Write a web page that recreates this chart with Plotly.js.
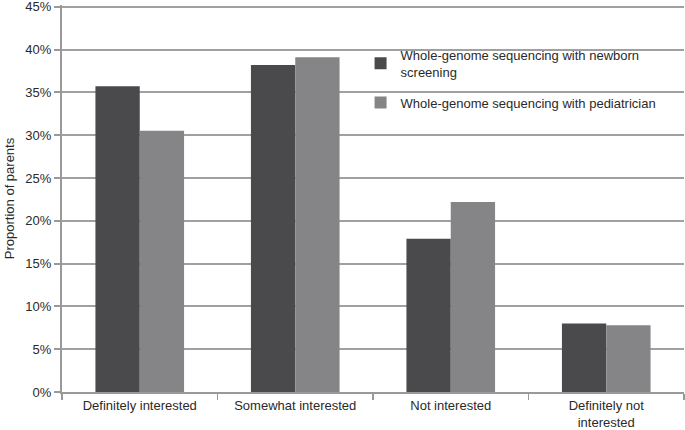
<!DOCTYPE html>
<html>
<head>
<meta charset="utf-8">
<script src="https://cdn.plot.ly/plotly-3.0.1.min.js"></script>
<style>
  html, body { margin: 0; padding: 0; background: #fff; }
  #chart { width: 685px; height: 430px; }
</style>
</head>
<body>
<div id="chart"></div>
<script>
// Interest in whole-genome sequencing, by setting
const categories = ['Definitely interested', 'Somewhat interested', 'Not interested', 'Definitely not<br>interested'];
const newbornScreening = [0.357, 0.382, 0.179, 0.080];
const pediatrician = [0.305, 0.391, 0.222, 0.078];
const yTicks = [0, 0.05, 0.10, 0.15, 0.20, 0.25, 0.30, 0.35, 0.40, 0.45];

const traces = [
  {
    x: categories,
    y: newbornScreening,
    type: 'bar',
    name: 'Whole-genome sequencing with newborn<br>screening',
    legendgroup: 'a',
    marker: { color: '#4a4a4c' }
  },
  {
    x: categories,
    y: pediatrician,
    type: 'bar',
    name: 'Whole-genome sequencing with pediatrician',
    legendgroup: 'b',
    marker: { color: '#858588' }
  }
];

const layout = {
  width: 685,
  height: 430,
  margin: { l: 62, r: 1, t: 5, b: 38, autoexpand: false },
  paper_bgcolor: '#fff',
  plot_bgcolor: '#fff',
  font: { family: 'Liberation Sans, Arial, sans-serif', size: 13, color: '#2a2a2a' },
  barmode: 'group',
  bargap: 0.43,
  bargroupgap: 0,
  showlegend: true,
  legend: {
    x: 0.48, y: 0.91, xanchor: 'left', yanchor: 'top',
    bgcolor: 'rgba(0,0,0,0)',
    traceorder: 'grouped',
    tracegroupgap: 11,
    font: { size: 13, color: '#2a2a2a' }
  },
  xaxis: {
    type: 'category',
    tickson: 'boundaries',
    ticks: 'outside',
    ticklen: 6,
    tickcolor: '#999',
    tickwidth: 1.5,
    showline: true,
    linecolor: '#999',
    linewidth: 2,
    showgrid: false,
    tickfont: { size: 13, color: '#2a2a2a' }
  },
  yaxis: {
    range: [0, 0.452],
    tickvals: yTicks,
    tickformat: '.0%',
    ticks: 'outside',
    ticklen: 6,
    tickcolor: '#999',
    tickwidth: 2,
    showline: true,
    linecolor: '#999',
    linewidth: 2,
    showgrid: true,
    gridcolor: '#a0a0a0',
    gridwidth: 2,
    zeroline: false,
    ticklabeloverflow: 'allow',
    tickfont: { size: 13, color: '#2a2a2a' },
    title: { text: 'Proportion of parents', font: { size: 13, color: '#2a2a2a' }, standoff: 8 }
  }
};

Plotly.newPlot('chart', traces, layout, { displayModeBar: false, staticPlot: true });
</script>
</body>
</html>
